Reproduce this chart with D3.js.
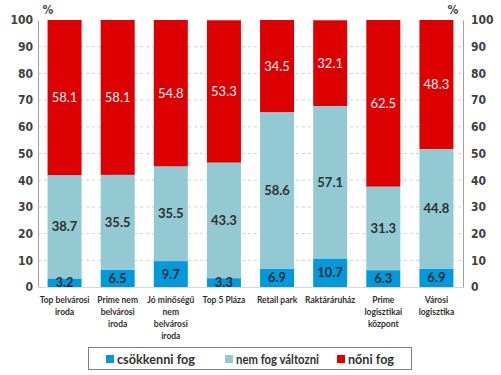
<!DOCTYPE html>
<html><head><meta charset="utf-8">
<script src="https://cdn.jsdelivr.net/npm/d3@7"></script>
<style>body{margin:0;background:#fff}svg{display:block}</style>
</head><body>
<svg id="c" width="501" height="375"></svg>
<script>
const categories = [
  ["Top belvárosi","iroda"],
  ["Prime nem","belvárosi","iroda"],
  ["Jó minőségű","nem","belvárosi","iroda"],
  ["Top 5 Pláza"],
  ["Retail park"],
  ["Raktáráruház"],
  ["Prime","logisztikai","központ"],
  ["Városi","logisztika"]
];
const seriesNames = ["csökkenni fog","nem fog változni","nőni fog"];
const csokkenni = [3.2, 6.5, 9.7, 3.3, 6.9, 10.7, 6.3, 6.9];
const nemValtozni = [38.7, 35.5, 35.5, 43.3, 58.6, 57.1, 31.3, 44.8];
const noni = [58.1, 58.1, 54.8, 53.3, 34.5, 32.1, 62.5, 48.3];
const yTicks = [0,10,20,30,40,50,60,70,80,90,100];
const colors = ["#0099dc","#92c9d2","#dc0000"];

const svg = d3.select("#c");
const L = 38, R = 463, T = 20, B = 287;
const x = d3.scaleBand().domain(d3.range(categories.length)).range([L, R]).paddingInner(0.36).paddingOuter(0.18);
const y = d3.scaleLinear().domain([0,100]).range([B, T]);

// grid
svg.append("g").selectAll("line").data(yTicks.filter(d => d > 0 && d < 100)).join("line")
  .attr("x1", L).attr("x2", R).attr("y1", d => y(d)).attr("y2", d => y(d))
  .attr("stroke", "#d0d0d0").attr("stroke-dasharray", "3,3").attr("stroke-width", 1);

// axes
const tickFont = "bold 12px 'DejaVu Sans Condensed', 'DejaVu Sans', sans-serif";
const yl = svg.append("g").attr("transform", `translate(${L},0)`).call(d3.axisLeft(y).tickValues(yTicks).tickSize(0).tickPadding(5));
const yr = svg.append("g").attr("transform", `translate(${R},0)`).call(d3.axisRight(y).tickValues(yTicks).tickSize(0).tickPadding(8));
[yl, yr].forEach(g => {
  g.select(".domain").attr("stroke", "#a0a0a0");
  g.selectAll("text").style("font", tickFont).attr("fill", "#404040");
});
svg.append("line").attr("x1", L).attr("x2", R).attr("y1", y(0)+0.5).attr("y2", y(0)+0.5).attr("stroke", "#d8d8d8");

svg.append("text").attr("x", 48).attr("y", 14).attr("text-anchor", "middle").style("font", tickFont).attr("fill", "#404040").text("%");
svg.append("text").attr("x", 453).attr("y", 14).attr("text-anchor", "middle").style("font", tickFont).attr("fill", "#404040").text("%");

// stack
const rows = categories.map((c, i) => ({i, s0: csokkenni[i], s1: nemValtozni[i], s2: noni[i]}));
const stack = d3.stack().keys(["s0","s1","s2"]);
const layers = stack(rows);
layers.forEach((layer, k) => {
  const g = svg.append("g");
  g.selectAll("rect").data(layer).join("rect")
    .attr("x", d => x(d.data.i)).attr("width", x.bandwidth())
    .attr("y", d => y(Math.min(100, d[1]))).attr("height", d => y(d[0]) - y(Math.min(100, d[1])))
    .attr("fill", colors[k]);
});
layers.forEach((layer, k) => {
  svg.append("g").selectAll("text").data(layer).join("text")
    .attr("x", d => x(d.data.i) + x.bandwidth()/2)
    .attr("y", d => y((d[0] + Math.min(100, d[1]))/2))
    .attr("dy", "0.35em").attr("text-anchor", "middle")
    .style("font", k === 2 ? "13px Lato, sans-serif" : "bold 13px Lato, sans-serif")
    .attr("fill", k === 2 ? "#eef0fa" : "#303030")
    .text(d => d.data["s"+k].toFixed(1));
});

// category labels
const cg = svg.append("g");
categories.forEach((lines, i) => {
  const t = cg.append("text").attr("text-anchor", "middle")
    .style("font", "bold 8.5px Lato, sans-serif").attr("fill", "#303030");
  lines.forEach((ln, j) => t.append("tspan").attr("x", x(i) + x.bandwidth()/2).attr("y", 303 + j*12).text(ln));
});

// legend
const lg = svg.append("g");
lg.append("rect").attr("x", 88.5).attr("y", 347.5).attr("width", 323).attr("height", 22).attr("fill", "#fff").attr("stroke", "#808080");
const lx = [106, 225, 337];
const lw = [78, 83, 46];
seriesNames.forEach((n, k) => {
  lg.append("rect").attr("x", lx[k]).attr("y", 355).attr("width", 8).attr("height", 8).attr("fill", colors[k]);
  lg.append("text").attr("x", lx[k] + 11).attr("y", 363.5).style("font", "bold 13.5px Lato, sans-serif")
    .attr("fill", "#303030").attr("textLength", lw[k]).attr("lengthAdjust", "spacingAndGlyphs").text(n);
});
</script>
</body></html>
